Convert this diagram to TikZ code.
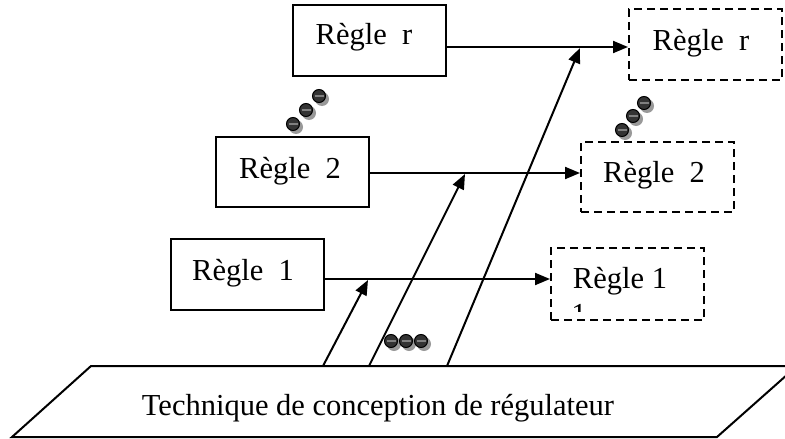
\documentclass[tikz,border=0pt]{standalone}
\usepackage{fontspec}
\setmainfont{Liberation Serif}
\usetikzlibrary{arrows.meta}
\begin{document}
\begin{tikzpicture}[x=1pt,y=-1pt,
  box/.style={draw,line width=2pt,inner sep=0pt,minimum width=153pt},
  dbox/.style={box,dash pattern=on 8pt off 5pt},
  lab/.style={font=\fontsize{30.5}{36}\selectfont,anchor=base,inner sep=0pt},
  conn/.style={line width=2pt,-{Triangle[length=15pt,width=12pt]}},
  ball/.pic={
    \fill[black!40] (3,3) circle (7);
    \fill[black!80,draw=black,line width=1pt] (0,0) circle (6.5);
    \draw[black!50,line width=1.2pt] (-4.5,0) -- (4.5,0);
  }
]
\useasboundingbox (0,0) rectangle (785,439);
\clip (0,0) rectangle (785,439);

% rule boxes
\node[box,minimum height=71pt] (rr) at (369.5,40.5) {};
\node[box,minimum height=70pt] (r2) at (292.5,172) {};
\node[box,minimum height=71pt] (r1) at (247.5,274.5) {};
\node[dbox,minimum height=71pt] (dr) at (705.5,44.5) {};
\node[dbox,minimum height=70pt] (d2) at (657.5,177) {};
\node[dbox,minimum height=72pt] (d1) at (627.5,284) {};

% labels
\node[lab] (lrr) at (364,45) {Règle\ \ r};
\node[lab] (lr2) at (290,178) {Règle\ \ 2};
\node[lab] (lr1) at (243,280) {Règle\ \ 1};
\node[lab] (ldr) at (701,50) {Règle\ \ r};
\node[lab] (ld2) at (654,182) {Règle\ \ 2};
\node[lab] (ld1) at (620,288) {Règle 1};
\begin{scope}
  \clip (560,296) rectangle (600,311);
  \node[lab] (ld1b) at (579,324) {1};
\end{scope}

% technique parallelogram
\draw[line width=2pt] (12,437) -- (91,366) -- (797,366) -- (717,437) -- cycle;
\node[lab] (tech) at (378,415) {Technique de conception de régulateur};

% horizontal connectors
\coordinate (hr) at (0,47);
\coordinate (h2) at (0,173);
\coordinate (h1) at (0,279);
\draw[conn] (rr.east |- hr) -- (dr.west |- hr);
\draw[conn] (r2.east |- h2) -- (d2.west |- h2);
\draw[conn] (r1.east |- h1) -- (d1.west |- h1);

% diagonal connectors
\coordinate (a1) at (323,366);
\coordinate (a2) at (369,366);
\coordinate (a3) at (447,366);
\coordinate (t1) at (368,280);
\coordinate (t2) at (465,174);
\coordinate (t3) at (580,48);
\draw[conn] (a1) -- (t1);
\draw[conn] (a2) -- (t2);
\draw[conn] (a3) -- (t3);

% ellipsis dots
\pic at (293,124) {ball};
\pic at (306,110) {ball};
\pic at (319,96) {ball};
\pic at (622,130) {ball};
\pic at (633,116) {ball};
\pic at (644,103) {ball};
\pic at (391,341) {ball};
\pic at (406,341) {ball};
\pic at (421,341) {ball};
\end{tikzpicture}
\end{document}
